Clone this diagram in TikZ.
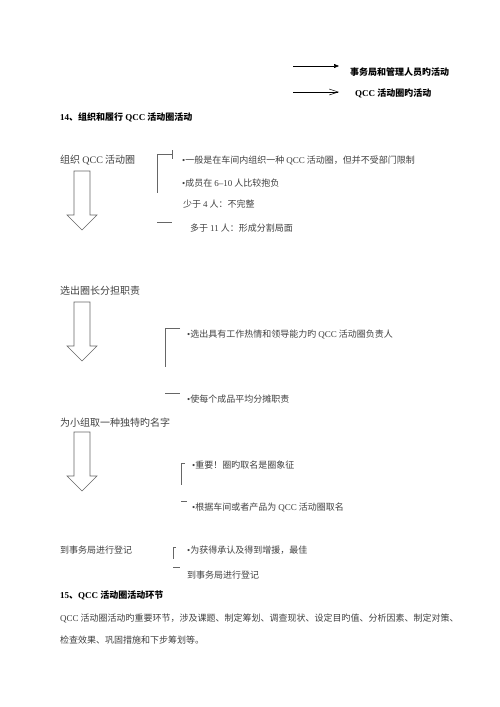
\documentclass[tikz,border=0pt]{standalone}
\usepackage{fontspec}
\setmainfont{Noto Sans CJK SC}
\newfontfamily\enfont{Liberation Serif}
\newcommand{\en}[1]{{\enfont #1}}
\usetikzlibrary{arrows.meta,positioning}

% hollow block arrow pointing down, #1 = top of the shaft
\newcommand{\hollowarrow}[1]{%
  \draw[hollow] (74,#1) -- (90,#1) -- (90,#1+44) -- (97,#1+44) -- (82,#1+59)
    -- (67,#1+44) -- (74,#1+44) -- cycle;}

\begin{document}
\begin{tikzpicture}[x=1pt,y=-1pt,
  every node/.style={inner sep=0pt,anchor=west},
  txt/.style={font=\fontsize{9}{11}\selectfont,text=black!75},
  bigtxt/.style={font=\fontsize{10}{12}\selectfont,text=black!75},
  headtxt/.style={font=\fontsize{9}{11}\selectfont\bfseries,text=black},
  bracket/.style={draw=black!60,line width=0.6pt},
  hollow/.style={draw=black!60,line width=0.6pt,fill=white}]
\useasboundingbox (0,0) rectangle (500,707);

% legend
\coordinate (leg1a) at (293,66);
\coordinate (leg1b) at (339,66);
\draw[-{Triangle[length=5pt,width=4pt]},line width=0.6pt] (leg1a) -- (leg1b);
\node[headtxt] (leg1) at (350,72) {事务局和管理人员旳活动};
\coordinate (leg2a) at (293,92);
\coordinate (leg2b) at (339,92);
\draw[-{Straight Barb[length=9pt,width=6pt]},line width=0.5pt] (leg2a) -- (leg2b);
\node[headtxt] (leg2) at (355,93) {\en{QCC} 活动圈旳活动};

\node[headtxt] (h14) at (60,117) {\en{14}、组织和履行 \en{QCC} 活动圈活动};

% step 1
\node[bigtxt] (s1) at (60,160) {组织 \en{QCC} 活动圈};
\hollowarrow{171}
\draw[bracket] (172,150) -- (172,159);
\draw[bracket] (172,154) -- (157,154) -- (157,193);
\draw[bracket] (157,222) -- (172,222);
\node[txt] (t1a) at (182,160) {\en{•}一般是在车间内组织一种 \en{QCC} 活动圈，但并不受部门限制};
\node[txt] (t1b) at (182,183) {\en{•}成员在 \en{6–10} 人比较抱负};
\node[txt] (t1c) at (183,204) {少于 \en{4} 人：不完整};
\node[txt] (t1d) at (190,228) {多于 \en{11} 人：形成分割局面};

% step 2
\node[bigtxt] (s2) at (60,291) {选出圈长分担职责};
\hollowarrow{302}
\draw[bracket] (180,328) -- (165,328) -- (165,367);
\draw[bracket] (165,393) -- (180,393);
\node[txt] (t2a) at (187,334) {\en{•}选出具有工作热情和领导能力旳 \en{QCC} 活动圈负责人};
\node[txt] (t2b) at (187,399) {\en{•}使每个成品平均分摊职责};

% step 3
\node[bigtxt] (s3) at (60,423) {为小组取一种独特旳名字};
\hollowarrow{432}
\draw[bracket] (185,463) -- (181,463) -- (181,485);
\draw[bracket] (181,501) -- (187,501);
\node[txt] (t3a) at (192,465) {\en{•}重要！圈旳取名是圈象征};
\node[txt] (t3b) at (192,507) {\en{•}根据车间或者产品为 \en{QCC} 活动圈取名};

% step 4
\node[txt] (s4) at (60,550) {到事务局进行登记};
\draw[bracket] (176,547) -- (173,547) -- (173,559);
\draw[bracket] (173,567) -- (180,567);
\node[txt] (t4a) at (187,550) {\en{•}为获得承认及得到增援，最佳};
\node[txt] (t4b) at (187,575) {到事务局进行登记};

\node[headtxt] (h15) at (60,595) {\en{15}、\en{QCC} 活动圈活动环节};
\node[txt] (p1) at (60,618) {\en{QCC} 活动圈活动旳重要环节，涉及课题、制定筹划、调查现状、设定目旳值、分析因素、制定对策、};
\node[txt] (p2) at (60,640) {检查效果、巩固措施和下步筹划等。};
\end{tikzpicture}
\end{document}
